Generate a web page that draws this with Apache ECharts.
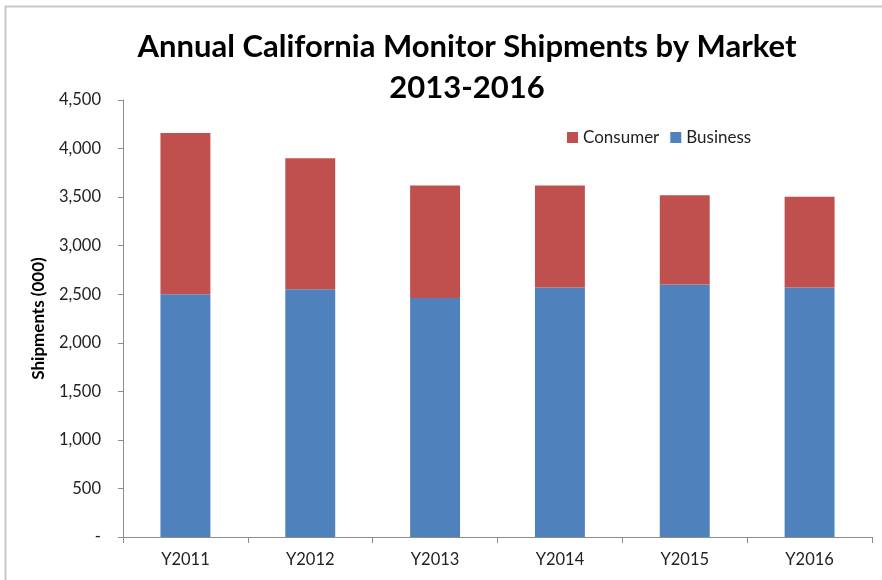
<!DOCTYPE html>
<html>
<head>
<meta charset="utf-8">
<title>Annual California Monitor Shipments by Market</title>
<script src="https://cdn.jsdelivr.net/npm/echarts@6/dist/echarts.min.js"></script>
<style>
    html, body { margin: 0; padding: 0; background: #fff; }
    #chart { width: 882px; height: 580px; }
</style>
</head>
<body>
<div id="chart"></div>
<script>
    var years = ['Y2011', 'Y2012', 'Y2013', 'Y2014', 'Y2015', 'Y2016'];
    var business = [2500, 2550, 2460, 2570, 2600, 2570];
    var consumer = [1660, 1350, 1160, 1050, 920, 935];
    var yTicks = { min: 0, max: 4500, step: 500 };

    var font = 'Lato, "Open Sans", sans-serif';

    // y轴数字格式, 0 显示为 "-"
    var fmt = function(v){
        if( v === 0 ){
            return '-';
        }
        return v.toLocaleString('en-US');
    };

    var myChart = echarts.init(document.getElementById('chart'), null, { renderer: 'canvas' });

    var option = {
        backgroundColor: '#fff',
        animation: false,
        title: {
            text: 'Annual California Monitor Shipments by Market\n2013-2016',
            left: 462,
            top: 21,
            textAlign: 'center',
            textStyle: {
                fontFamily: font,
                fontSize: 31,
                fontWeight: 'bold',
                color: '#000',
                lineHeight: 41
            }
        },
        legend: {
            data: ['Consumer', 'Business'],
            left: 562,
            top: 124,
            itemWidth: 11,
            itemHeight: 11,
            itemGap: 11,
            icon: 'rect',
            textStyle: {
                fontFamily: font,
                fontSize: 17,
                color: '#222',
                padding: [0, 0, 0, 0]
            }
        },
        grid: {
            left: 123,
            right: 10,
            top: 100,
            bottom: 43,
            containLabel: false
        },
        xAxis: {
            type: 'category',
            data: years,
            axisLine: { lineStyle: { color: '#8c8c8c', width: 1 } },
            axisTick: { show: true, length: 6, alignWithLabel: false, lineStyle: { color: '#8c8c8c' } },
            axisLabel: {
                fontFamily: font,
                fontSize: 16.5,
                color: '#222',
                margin: 14
            }
        },
        yAxis: {
            type: 'value',
            min: yTicks.min,
            max: yTicks.max,
            interval: yTicks.step,
            name: 'Shipments (000)',
            nameLocation: 'middle',
            nameGap: 76,
            nameTextStyle: {
                fontFamily: font,
                fontSize: 17,
                fontWeight: 'bold',
                color: '#000'
            },
            axisLine: { show: true, lineStyle: { color: '#8c8c8c', width: 1 } },
            axisTick: { show: true, length: 5, lineStyle: { color: '#8c8c8c' } },
            splitLine: { show: false },
            axisLabel: {
                fontFamily: font,
                fontSize: 16.5,
                color: '#222',
                margin: 22,
                formatter: fmt
            }
        },
        series: [
            {
                name: 'Business',
                type: 'bar',
                stack: 'total',
                data: business,
                barWidth: '40%',
                itemStyle: { color: '#4F81BD' }
            },
            {
                name: 'Consumer',
                type: 'bar',
                stack: 'total',
                data: consumer,
                barWidth: '40%',
                itemStyle: { color: '#C0504D' }
            }
        ],
        // 外框线 (上, 左)
        graphic: [
            { type: 'line', shape: { x1: 5, y1: 6.5, x2: 882, y2: 6.5 }, style: { stroke: '#c8c8c8', lineWidth: 2 } },
            { type: 'line', shape: { x1: 5.5, y1: 6, x2: 5.5, y2: 580 }, style: { stroke: '#c8c8c8', lineWidth: 2 } }
        ]
    };

    myChart.setOption( option );
</script>
</body>
</html>
